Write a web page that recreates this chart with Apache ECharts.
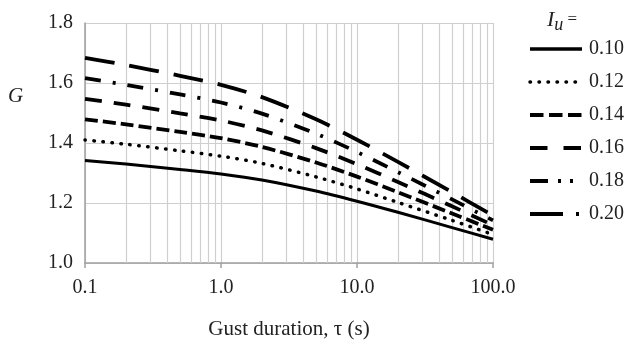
<!DOCTYPE html>
<html>
<head>
<meta charset="utf-8">
<script src="https://cdn.jsdelivr.net/npm/echarts@6/dist/echarts.min.js"></script>
<style>
  html, body { margin: 0; padding: 0; background: #fff; }
  #chart { width: 625px; height: 341px; }
</style>
</head>
<body>
<div id="chart"></div>
<script>
// Gust factor G against gust duration for several turbulence intensities
const durations = [0.1, 0.2, 0.5, 1, 2, 5, 10, 20, 50, 100];
const intensityLabels = ['0.10', '0.12', '0.14', '0.16', '0.18', '0.20'];

const g010 = [1.342, 1.330, 1.312, 1.297, 1.277, 1.240, 1.206, 1.169, 1.118, 1.079];
const g012 = [1.410, 1.396, 1.374, 1.356, 1.332, 1.287, 1.247, 1.202, 1.142, 1.095];
const g014 = [1.479, 1.462, 1.437, 1.416, 1.387, 1.335, 1.288, 1.236, 1.165, 1.111];
const g016 = [1.547, 1.528, 1.499, 1.475, 1.442, 1.383, 1.329, 1.270, 1.189, 1.126];
const g018 = [1.616, 1.594, 1.562, 1.535, 1.498, 1.431, 1.370, 1.303, 1.212, 1.142];
const g020 = [1.684, 1.660, 1.624, 1.594, 1.553, 1.479, 1.411, 1.337, 1.236, 1.158];

const yTicks = [1.0, 1.2, 1.4, 1.6, 1.8];
// minor log gridlines (2..9 in each decade)
const minorGrid = [0.2, 0.3, 0.4, 0.5, 0.6, 0.7, 0.8, 0.9,
                   2, 3, 4, 5, 6, 7, 8, 9,
                   20, 30, 40, 50, 60, 70, 80, 90];

const FONT = '"Liberation Serif", "DejaVu Serif", serif';

const seriesValues = [g010, g012, g014, g016, g018, g020];
const lineStyles = [
  { width: 3, type: 'solid' },
  { width: 3.5, type: [0.5, 8.5], cap: 'round' },
  { width: 3.8, type: [13, 5] },
  { width: 3.8, type: [17, 12] },
  { width: 3.8, type: [16, 12, 3, 12] },
  { width: 3.8, type: [30, 15] }
];
const legendStyles = [
  { width: 3.5, type: 'solid' },
  { width: 3.5, type: [0.5, 8.5], cap: 'round' },
  { width: 4, type: [13.5, 5.5] },
  { width: 4, type: [17.5, 16] },
  { width: 4, type: [18, 10, 3, 9, 3, 10] },
  { width: 4, type: [33, 13, 3, 13] }
];

const series = intensityLabels.map((name, i) => ({
  name: name,
  type: 'line',
  data: durations.map((d, j) => [d, seriesValues[i][j]]),
  showSymbol: false,
  symbol: 'none',
  smooth: 0.3,
  z: 5,
  itemStyle: { color: '#000' },
  lineStyle: Object.assign({ color: '#000' }, lineStyles[i])
}));

series.push({
  name: 'minor',
  type: 'line',
  data: [],
  silent: true,
  z: 1,
  markLine: {
    silent: true,
    symbol: 'none',
    label: { show: false },
    lineStyle: { color: '#cfcfcf', width: 1.2, type: 'solid' },
    data: minorGrid.map(v => ({ xAxis: v }))
  }
});

const chart = echarts.init(document.getElementById('chart'), null, { renderer: 'canvas' });
chart.setOption({
  backgroundColor: '#fff',
  animation: false,
  grid: { left: 85, right: 132, top: 23, bottom: 78, containLabel: false, outerBoundsMode: 'none' },
  xAxis: {
    type: 'log',
    logBase: 10,
    min: 0.1,
    max: 100,
    axisLine: { show: true, lineStyle: { color: '#a0a0a0', width: 1.5 } },
    axisTick: { show: true, length: 5, lineStyle: { color: '#a0a0a0', width: 1.5 } },
    splitLine: { show: true, lineStyle: { color: '#cfcfcf', width: 1.2 } },
    axisLabel: {
      fontFamily: FONT, fontSize: 20, color: '#222', margin: 15,
      formatter: v => (+v).toFixed(1)
    },
    name: 'Gust duration, τ (s)',
    nameLocation: 'middle',
    nameGap: 56,
    nameTextStyle: { fontFamily: FONT, fontSize: 21, color: '#222' }
  },
  yAxis: {
    type: 'value',
    min: yTicks[0],
    max: yTicks[yTicks.length - 1],
    interval: 0.2,
    axisLine: { show: true, lineStyle: { color: '#a0a0a0', width: 1.5 } },
    axisTick: { show: false },
    splitLine: { show: true, lineStyle: { color: '#cfcfcf', width: 1.2 } },
    axisLabel: {
      fontFamily: FONT, fontSize: 20, color: '#222', margin: 12,
      formatter: v => (+v).toFixed(1)
    }
  },
  legend: {
    orient: 'vertical',
    left: 523,
    top: 34,
    itemWidth: 52,
    itemHeight: 14,
    itemGap: 13,
    selectedMode: false,
    textStyle: { fontFamily: FONT, fontSize: 20, color: '#222', padding: [0, 0, 0, 2] },
    data: intensityLabels.map((name, i) => ({
      name: name,
      itemStyle: { opacity: 0 },
      lineStyle: Object.assign({ color: '#000', opacity: 1 }, legendStyles[i])
    }))
  },
  graphic: [
    {
      type: 'text',
      left: 8,
      top: 86,
      style: { text: 'G', font: 'italic 21px ' + FONT, fill: '#222' }
    },
    {
      type: 'text',
      left: 547,
      top: 9,
      style: {
        text: '{i|I}{u|u}{e| =}',
        rich: {
          i: { font: 'italic 22px ' + FONT, fill: '#222' },
          u: { font: 'italic 18px ' + FONT, fill: '#222', padding: [10, 0, 0, 0] },
          e: { font: '17px ' + FONT, fill: '#222' }
        }
      }
    }
  ],
  series: series
});
</script>
</body>
</html>
